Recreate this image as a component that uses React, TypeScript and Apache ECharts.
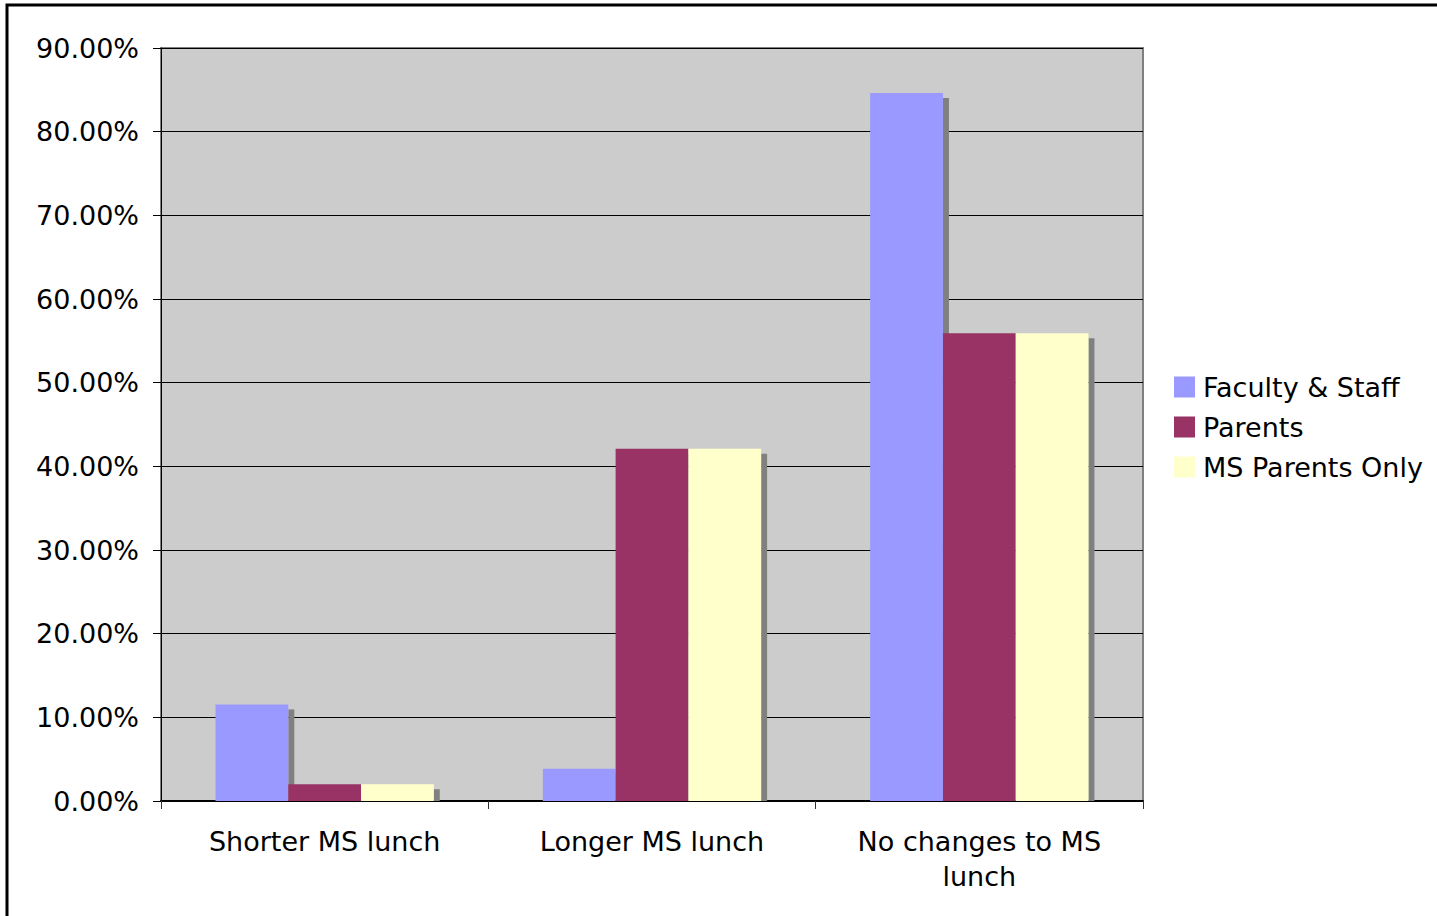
import React, { useEffect, useRef } from "react";
import * as echarts from "echarts";

const categories = ["Shorter MS lunch", "Longer MS lunch", "No changes to MS\nlunch"];
const seriesNames = ["Faculty & Staff", "Parents", "MS Parents Only"];
const facultyStaff = [11.54, 3.85, 84.62];
const parents = [2.0, 42.1, 55.9];
const msParentsOnly = [2.0, 42.1, 55.9];
const colors = ["#9999FF", "#993366", "#FFFFCC"];

const FONT = "'DejaVu Sans', Verdana, sans-serif";
const FS = 27;

export default function App() {
  const ref = useRef<HTMLDivElement>(null);
  useEffect(() => {
    document.body.style.margin = "0";
    const chart = echarts.init(ref.current!, null, { renderer: "svg" });
    const allSeries = [facultyStaff, parents, msParentsOnly];
    const shadowData: number[][] = [];
    allSeries.forEach((arr, si) => arr.forEach((v, ci) => shadowData.push([ci, v, si])));

    chart.setOption({
      animation: false,
      backgroundColor: "#ffffff",
      textStyle: { fontFamily: FONT },
      grid: {
        left: 161,
        top: 48,
        right: 294,
        bottom: 115,
        show: true,
        backgroundColor: "#cccccc",
        borderColor: "#808080",
        borderWidth: 2,
      },
      legend: {
        orient: "vertical",
        left: 1169,
        top: 367,
        data: seriesNames,
        icon: "rect",
        itemWidth: 21,
        itemHeight: 21,
        itemGap: 10,
        textStyle: { fontSize: FS, color: "#000", fontFamily: FONT, lineHeight: 30, padding: [0, 0, 0, 3] },
      },
      xAxis: {
        type: "category",
        data: categories,
        axisLine: { lineStyle: { color: "#000", width: 2 } },
        axisTick: { show: true, length: 8, lineStyle: { color: "#333" } },
        axisLabel: { fontSize: FS, color: "#000", fontFamily: FONT, margin: 23, lineHeight: 35, interval: 0 },
      },
      yAxis: {
        type: "value",
        min: 0,
        max: 90,
        interval: 10,
        axisLine: { show: true, lineStyle: { color: "#000", width: 1 } },
        axisTick: { show: true, length: 8, lineStyle: { color: "#000" } },
        axisLabel: {
          fontSize: FS,
          color: "#000",
          fontFamily: FONT,
          margin: 22,
          formatter: (v: number) => v.toFixed(2) + "%",
        },
        splitLine: { show: true, lineStyle: { color: "#000", width: 1 } },
      },
      graphic: [
        {
          type: "rect",
          shape: { x: 7, y: 5, width: 1500, height: 1000 },
          style: { fill: "none", stroke: "#000", lineWidth: 3 },
          silent: true,
        },
      ],
      series: [
        {
          type: "custom",
          name: "shadow",
          z: 1,
          data: shadowData,
          encode: { x: 0, y: 1 },
          renderItem: (params: any, api: any) => {
            const cat = api.value(0);
            const val = api.value(1);
            const si = api.value(2);
            const band = api.size([1, 0])[0];
            const barW = (band * (2 / 3)) / 3;
            const c = api.coord([cat, val]);
            const base = api.coord([cat, 0]);
            const left = c[0] - 1.5 * barW + si * barW;
            const h = Math.max(0, base[1] - c[1] - 5);
            return {
              type: "rect",
              shape: { x: left + barW, y: c[1] + 5, width: 6, height: h },
              style: { fill: "#808080" },
            };
          },
        },
        ...allSeries.map((arr, i) => ({
          type: "bar",
          name: seriesNames[i],
          data: arr,
          z: 2,
          barGap: "0%",
          barCategoryGap: "33.3%",
          itemStyle: { color: colors[i] },
        })),
      ],
    });
    return () => chart.dispose();
  }, []);
  return <div ref={ref} style={{ width: 1437, height: 916 }} />;
}
